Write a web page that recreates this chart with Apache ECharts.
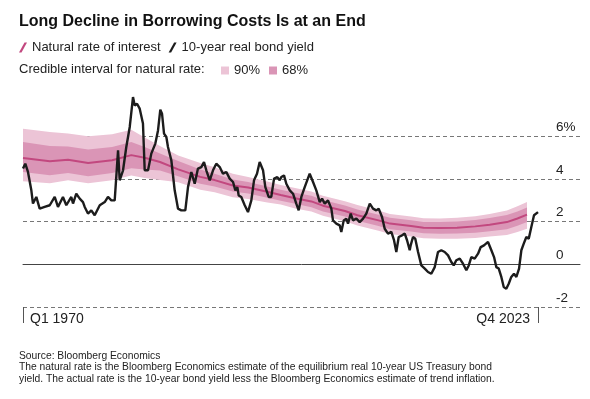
<!DOCTYPE html>
<html>
<head>
<meta charset="utf-8">
<title>Long Decline in Borrowing Costs Is at an End</title>
<script src="https://cdn.jsdelivr.net/npm/echarts@6.0.0/dist/echarts.min.js"></script>
<style>
    html, body {margin: 0; padding: 0; background: #fff;}
    #chart {width: 590px; height: 399px;}
</style>
</head>
<body>
<div id="chart"></div>
<script>
// natural rate of interest and credible intervals, dates as decimal years
var natDates = [1970.0, 1972.8, 1974.7, 1976.8, 1979.3, 1981.3, 1982.7, 1984.3, 1986.2, 1988.5,
    1990.0, 1991.9, 1993.5, 1995.5, 1996.9, 1998.4, 2000.1, 2001.3, 2003.6, 2004.9,
    2007.1, 2008.3, 2010.5, 2011.8, 2013.5, 2015.3, 2017.2, 2018.7, 2020.5, 2021.6, 2022.6];
var natRate = [4.98, 4.83, 4.90, 4.75, 4.88, 5.12, 5.00, 4.80, 4.45, 4.10,
    3.95, 3.70, 3.60, 3.40, 3.25, 3.10, 2.95, 2.75, 2.50, 2.30,
    2.06, 1.91, 1.80, 1.72, 1.70, 1.72, 1.78, 1.86, 1.98, 2.15, 2.33];
var hi90 = [6.36, 6.20, 6.13, 6.00, 6.10, 6.31, 5.95, 5.55, 5.10, 4.75,
    4.55, 4.25, 4.10, 3.88, 3.72, 3.58, 3.42, 3.22, 2.96, 2.78,
    2.52, 2.36, 2.24, 2.16, 2.15, 2.18, 2.26, 2.36, 2.52, 2.72, 2.92];
var hi68 = [5.73, 5.55, 5.52, 5.38, 5.50, 5.73, 5.50, 5.20, 4.85, 4.45,
    4.25, 3.98, 3.86, 3.65, 3.50, 3.36, 3.22, 3.02, 2.76, 2.57,
    2.33, 2.18, 2.07, 1.99, 1.98, 2.01, 2.08, 2.17, 2.31, 2.48, 2.66];
var lo68 = [4.33, 4.18, 4.28, 4.13, 4.28, 4.50, 4.45, 4.40, 4.13, 3.78,
    3.65, 3.42, 3.32, 3.12, 2.98, 2.84, 2.68, 2.48, 2.24, 2.04,
    1.80, 1.65, 1.54, 1.46, 1.43, 1.44, 1.48, 1.55, 1.65, 1.81, 1.98];
var lo90 = [3.90, 3.80, 3.94, 3.80, 3.94, 4.17, 4.05, 3.95, 3.85, 3.50,
    3.38, 3.15, 3.06, 2.90, 2.80, 2.62, 2.48, 2.28, 2.02, 1.82,
    1.58, 1.42, 1.30, 1.22, 1.20, 1.20, 1.24, 1.30, 1.38, 1.52, 1.67];

// 10-year real bond yield
var bondDates = [1970.00, 1970.24, 1970.52, 1970.87, 1971.04, 1971.39, 1971.74, 1972.26, 1972.79, 1973.31,
    1973.65, 1974.17, 1974.52, 1975.04, 1975.22, 1975.56, 1975.92, 1976.26, 1976.44, 1976.78,
    1977.13, 1977.48, 1978.01, 1978.53, 1978.87, 1979.22, 1979.57, 1979.92, 1980.09, 1980.44,
    1980.78, 1981.14, 1981.48, 1981.66, 1981.90, 1982.18, 1982.52, 1982.70, 1983.05, 1983.39,
    1983.81, 1984.09, 1984.33, 1984.51, 1984.72, 1984.96, 1985.13, 1985.48, 1985.83, 1986.18,
    1986.52, 1986.94, 1987.22, 1987.57, 1987.92, 1988.26, 1988.61, 1988.89, 1989.13, 1989.49,
    1989.83, 1990.17, 1990.53, 1990.87, 1991.22, 1991.57, 1991.92, 1992.16, 1992.37, 1992.51,
    1992.78, 1993.14, 1993.48, 1993.83, 1994.11, 1994.42, 1994.70, 1995.05, 1995.29, 1995.64,
    1995.91, 1996.20, 1996.54, 1996.79, 1996.96, 1997.24, 1997.48, 1997.84, 1998.18, 1998.52,
    1998.77, 1999.05, 1999.40, 1999.92, 2000.27, 2000.61, 2000.97, 2001.21, 2001.49, 2001.83,
    2002.18, 2002.35, 2002.70, 2003.05, 2003.22, 2003.47, 2003.74, 2003.92, 2004.20, 2004.44,
    2004.79, 2005.14, 2005.49, 2005.83, 2006.19, 2006.53, 2006.87, 2007.12, 2007.47, 2007.75,
    2008.09, 2008.44, 2008.72, 2008.96, 2009.21, 2009.56, 2009.84, 2010.08, 2010.36, 2010.46,
    2010.70, 2010.94, 2011.23, 2011.57, 2011.93, 2012.27, 2012.61, 2012.97, 2013.31, 2013.66,
    2014.01, 2014.36, 2014.70, 2014.95, 2015.22, 2015.58, 2015.92, 2016.27, 2016.52, 2016.79,
    2017.14, 2017.49, 2017.77, 2018.11, 2018.53, 2018.88, 2019.16, 2019.40, 2019.65, 2019.92,
    2020.17, 2020.44, 2020.69, 2020.96, 2021.24, 2021.49, 2021.77, 2022.01, 2022.26, 2022.53,
    2022.78, 2023.05, 2023.33, 2023.75];
var bondYield = [4.49, 4.72, 4.33, 3.47, 2.85, 3.16, 2.61, 2.69, 2.77, 3.16,
    2.69, 3.16, 2.77, 3.16, 2.85, 3.31, 3.08, 2.92, 2.69, 2.38,
    2.53, 2.30, 2.77, 2.92, 3.16, 3.00, 3.00, 5.34, 3.94, 4.41,
    5.50, 6.44, 7.84, 7.45, 7.53, 7.30, 6.60, 4.41, 4.41, 5.19,
    5.66, 6.28, 7.25, 7.06, 6.13, 5.97, 5.50, 4.88, 3.47, 2.61,
    2.53, 2.53, 3.62, 4.33, 3.78, 4.49, 4.56, 4.80, 4.41, 3.94,
    4.41, 4.72, 4.56, 4.25, 4.33, 4.02, 3.86, 3.47, 3.62, 3.23,
    3.16, 2.77, 2.45, 3.00, 3.94, 4.25, 4.80, 4.41, 3.62, 3.16,
    3.16, 4.02, 4.09, 3.94, 4.09, 4.17, 3.78, 3.47, 3.31, 2.85,
    2.53, 3.16, 3.62, 4.25, 3.86, 3.47, 2.92, 3.08, 2.85, 3.00,
    2.61, 2.06, 1.91, 1.83, 1.52, 2.06, 2.14, 1.91, 2.38, 2.06,
    2.14, 1.98, 2.14, 2.38, 2.85, 2.61, 2.53, 2.61, 2.22, 1.67,
    1.44, 1.52, 1.13, 0.58, 1.28, 1.36, 1.44, 1.13, 0.66, 0.89,
    1.28, 1.20, 0.58, -0.05, -0.20, -0.36, -0.44, -0.13, 0.58, 0.66,
    0.58, 0.42, 0.11, -0.05, 0.19, 0.27, 0.03, -0.28, -0.05, 0.34,
    0.27, 0.50, 0.81, 0.89, 1.05, 0.66, 0.34, -0.13, -0.20, -0.59,
    -1.06, -1.14, -0.91, -0.59, -0.44, -0.59, -0.20, 0.66, 0.97, 1.28,
    1.20, 1.75, 2.30, 2.45];

var yLabels = {'-2': '-2', '0': '0', '2': '2', '4': '4', '6': '6%'};
var xTickValues = [1970, 2023.75];
var xTickLabels = ['Q1 1970', 'Q4 2023'];

var c90 = '#ecc4d6';
var c68 = '#da95b6';
var cNat = '#c2487f';
var cBond = '#1c1c1c';
var font = 'Liberation Sans, Arial, sans-serif';
var slash = 'path://M5.5,0 L8,0 L2.5,10 L0,10 Z';

function pairs(xs, ys) {
    return xs.map(function (x, i) { return [x, ys[i]]; });
}

// one filled band between an upper and a lower array
function bandRenderer(upper, lower, fill) {
    return function (params, api) {
        if (params.dataIndex !== 0) return;
        var pts = [];
        for (var i = 0; i < natDates.length; i++) {
            pts.push(api.coord([natDates[i], upper[i]]));
        }
        for (var j = natDates.length - 1; j >= 0; j--) {
            pts.push(api.coord([natDates[j], lower[j]]));
        }
        return {
            type: 'polygon',
            shape: {points: pts},
            style: {fill: fill, stroke: null}
        };
    };
}

var myChart = echarts.init(document.getElementById('chart'));

var option = {
    animation: false,
    backgroundColor: '#fff',
    textStyle: {fontFamily: font},
    title: {
        text: 'Long Decline in Borrowing Costs Is at an End',
        left: 19,
        top: 14,
        padding: 0,
        textStyle: {fontSize: 16, fontWeight: 'bold', color: '#111', fontFamily: font}
    },
    legend: [{
        left: 19,
        top: 41,
        padding: 0,
        itemWidth: 8,
        itemHeight: 10,
        itemGap: 8,
        selectedMode: false,
        textStyle: {fontSize: 13, color: '#222', fontFamily: font},
        data: [
            {name: 'Natural rate of interest', icon: slash, itemStyle: {color: cNat, borderWidth: 0}},
            {name: '10-year real bond yield', icon: slash, itemStyle: {color: cBond, borderWidth: 0}}
        ]
    }, {
        left: 221,
        top: 64,
        padding: 0,
        itemWidth: 8,
        itemHeight: 8,
        itemGap: 9,
        selectedMode: false,
        textStyle: {fontSize: 13, color: '#222', fontFamily: font},
        data: [
            {name: '90%', icon: 'rect', itemStyle: {color: c90, borderWidth: 0}},
            {name: '68%', icon: 'rect', itemStyle: {color: c68, borderWidth: 0}}
        ]
    }],
    grid: {left: 23, right: 10, top: 93.7, bottom: 92},
    xAxis: [{
        type: 'value',
        min: 1970,
        max: 2028.13,
        position: 'top',
        axisLine: {show: true, onZero: true, lineStyle: {color: '#444', width: 1}},
        axisTick: {show: false},
        axisLabel: {show: false},
        splitLine: {show: false}
    }, {
        type: 'value',
        min: 1970,
        max: 2028.13,
        position: 'bottom',
        axisLine: {show: false, onZero: false},
        axisTick: {show: true, customValues: xTickValues, length: 16, lineStyle: {color: '#555', width: 1}},
        axisLabel: {show: false},
        splitLine: {show: false}
    }],
    yAxis: {
        type: 'value',
        position: 'right',
        min: -2,
        max: 8,
        interval: 2,
        axisLine: {show: false},
        axisTick: {show: false},
        splitLine: {
            show: true,
            lineStyle: {
                color: ['#777', 'rgba(0,0,0,0)', '#777', '#777', '#777', 'rgba(0,0,0,0)'],
                type: [4, 3],
                width: 1
            }
        },
        axisLabel: {
            inside: true,
            align: 'left',
            margin: 24,
            verticalAlign: 'bottom',
            padding: [0, 0, 2, 0],
            fontSize: 13.5,
            color: '#222',
            fontFamily: font,
            formatter: function (v) {
                return yLabels[String(v)] || '';
            }
        }
    },
    series: [
        {
            name: '90%',
            type: 'custom',
            silent: true,
            color: c90,
            renderItem: bandRenderer(hi90, lo90, c90),
            data: pairs(natDates, natRate),
            z: 1
        },
        {
            name: '68%',
            type: 'custom',
            silent: true,
            color: c68,
            renderItem: bandRenderer(hi68, lo68, c68),
            data: pairs(natDates, natRate),
            z: 1
        },
        {
            name: 'Natural rate of interest',
            type: 'line',
            symbol: 'none',
            color: cNat,
            lineStyle: {color: cNat, width: 2},
            data: pairs(natDates, natRate),
            z: 2
        },
        {
            name: '10-year real bond yield',
            type: 'line',
            symbol: 'none',
            color: cBond,
            lineStyle: {color: cBond, width: 2.4},
            data: pairs(bondDates, bondYield),
            z: 3
        }
    ]
};

myChart.setOption(option);

// x-axis end labels placed next to their ticks, positions from the axis scale
var x0 = myChart.convertToPixel({xAxisIndex: 1}, xTickValues[0]);
var x1 = myChart.convertToPixel({xAxisIndex: 1}, xTickValues[1]);
var yBottom = myChart.convertToPixel({yAxisIndex: 0}, -2);

myChart.setOption({
    graphic: [
        {type: 'text', left: x0 + 7, top: yBottom + 5,
            style: {text: xTickLabels[0], font: '14px ' + font, fill: '#222'}},
        {type: 'text', right: 590 - x1 + 8, top: yBottom + 5,
            style: {text: xTickLabels[1], font: '14px ' + font, fill: '#222'}},
        {type: 'text', left: 19, top: 63,
            style: {text: 'Credible interval for natural rate:', font: '13px ' + font, fill: '#222'}},
        {type: 'text', left: 19, top: 350,
            style: {
                text: 'Source: Bloomberg Economics\n' +
                    'The natural rate is the Bloomberg Economics estimate of the equilibrium real 10-year US Treasury bond\n' +
                    'yield. The actual rate is the 10-year bond yield less the Bloomberg Economics estimate of trend inflation.',
                font: '10.3px ' + font,
                lineHeight: 11.5,
                fill: '#222'
            }}
    ]
});
</script>
</body>
</html>
